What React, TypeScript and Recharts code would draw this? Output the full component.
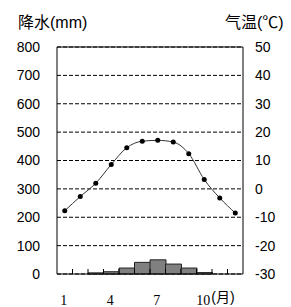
import React from "react";
import {
  ComposedChart, Bar, Line, XAxis, YAxis, CartesianGrid, ReferenceLine,
} from "recharts";

const months = ["1", "2", "3", "4", "5", "6", "7", "8", "9", "10", "11", "12"];
const precipitation = [0, 0, 4, 8, 21, 41, 50, 35, 21, 5, 0, 0];
const temperature = [-7.7, -2.7, 2, 8.6, 14.5, 16.8, 17.1, 16.5, 12.4, 3.3, -3.2, -8.5];
const precipTicks = [0, 100, 200, 300, 400, 500, 600, 700, 800];
const tempTicks = [-30, -20, -10, 0, 10, 20, 30, 40, 50];
const shownMonths = ["1", "4", "7", "10"];

const data = months.map((m, i) => ({
  month: m,
  precip: precipitation[i],
  temp: temperature[i],
}));

const W = 291;
const H = 307;
const PLOT_W = 291 - 57 - 48;
const BAND = PLOT_W / months.length;
const sans = "'Liberation Sans', Arial, 'Noto Sans CJK SC', sans-serif";
const serif = "'Liberation Serif', 'DejaVu Serif', serif";

function MonthTick(props: any) {
  const { x, y, payload, index } = props;
  const v = payload.value as string;
  return (
    <g>
      {index > 0 && (
        <line x1={x - BAND / 2} x2={x - BAND / 2} y1={y} y2={y - 5} stroke="#000" />
      )}
      {shownMonths.includes(v) && (
        <text x={x - 1} y={y + 31} textAnchor="middle" fontFamily={serif} fontSize={14} fill="#000">
          {v}
        </text>
      )}
      {v === "10" && (
        <text x={x + 7} y={y + 28} textAnchor="start" fontFamily={sans} fontSize={14} fill="#000">
          (月)
        </text>
      )}
    </g>
  );
}

export default function App() {
  return (
    <div style={{ position: "absolute", left: 0, top: 0, width: W, height: H, background: "#fff" }}>
      <div style={{ position: "absolute", left: 18, top: 9, fontFamily: sans, fontSize: 16, color: "#000", whiteSpace: "nowrap" }}>
        降水(mm)
      </div>
      <div style={{ position: "absolute", left: 225, top: 9, fontFamily: sans, fontSize: 16, color: "#000", whiteSpace: "nowrap" }}>
        气温(℃)
      </div>
      <ComposedChart
        width={W}
        height={H}
        data={data}
        margin={{ top: 47, right: 0, bottom: 0, left: 0 }}
        barCategoryGap={0}
        barGap={0}
      >
        <CartesianGrid yAxisId="left" vertical={false} stroke="#000" strokeDasharray="4 2" />
        <XAxis
          dataKey="month"
          interval={0}
          height={33}
          tickLine={false}
          tickSize={0}
          tickMargin={0}
          axisLine={{ stroke: "#000" }}
          tick={<MonthTick />}
        />
        <YAxis
          yAxisId="left"
          domain={[0, 800]}
          ticks={precipTicks}
          width={57}
          tickLine={false}
          tickSize={0}
          tickMargin={17}
          axisLine={{ stroke: "#000" }}
          tick={{ fill: "#000", fontSize: 14, fontFamily: sans }}
        />
        <YAxis
          yAxisId="right"
          orientation="right"
          domain={[-30, 50]}
          ticks={tempTicks}
          width={48}
          tickLine={false}
          tickSize={0}
          tickMargin={12}
          axisLine={{ stroke: "#000" }}
          tick={{ fill: "#000", fontSize: 14, fontFamily: sans, textAnchor: "start" }}
        />
        <ReferenceLine yAxisId="left" y={800} stroke="#000" />
        <Bar
          yAxisId="left"
          dataKey="precip"
          fill="#808080"
          stroke="#222"
          strokeWidth={1}
          isAnimationActive={false}
        />
        <Line
          yAxisId="right"
          dataKey="temp"
          type="monotone"
          stroke="#333"
          strokeWidth={1}
          dot={{ r: 2.5, fill: "#000", stroke: "#000", strokeWidth: 0 }}
          isAnimationActive={false}
        />
      </ComposedChart>
    </div>
  );
}
